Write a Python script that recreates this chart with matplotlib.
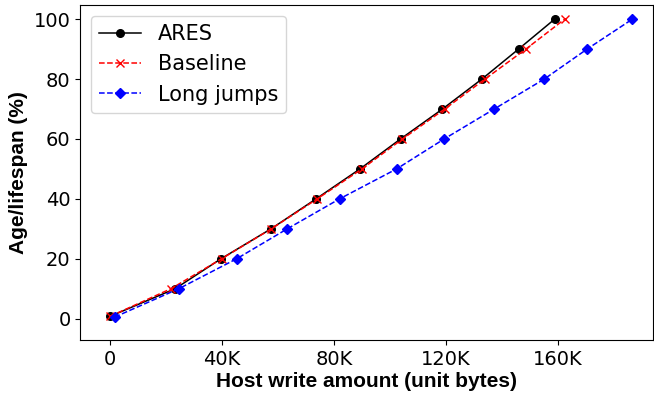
import matplotlib
matplotlib.use("Agg")
from matplotlib import pyplot as plt
from matplotlib.ticker import FuncFormatter

# 数据 (x 单位: K)
ares_x = [0, 23.2, 39.6, 57.5, 73.6, 89.3, 103.8, 118.8, 132.9, 146.0, 158.9]
ares_y = [0.8, 10, 20, 30, 40, 50, 60, 70, 80, 90, 100]
base_x = [0, 21.7, 39.8, 57.6, 74.0, 90.0, 104.5, 119.6, 134.0, 148.6, 162.5]
base_y = [0.8, 10, 20, 30, 40, 50, 60, 70, 80, 90, 100]
jump_x = [1.5, 24.5, 45.2, 63.3, 82.0, 102.4, 119.4, 137.3, 155.2, 170.5, 186.7]
jump_y = [0.5, 10, 20, 30, 40, 50, 60, 70, 80, 90, 100]
x_ticks = [0, 40, 80, 120, 160]

fig, ax = plt.subplots(figsize=(6.54, 3.95), dpi=100)
ax.plot([v * 1000 for v in ares_x], ares_y, 'k-', marker='o', ms=5.5, lw=1.1, label='ARES')
ax.plot([v * 1000 for v in base_x], base_y, 'r--', marker='x', ms=5.5, lw=1.1, label='Baseline')
ax.plot([v * 1000 for v in jump_x], jump_y, 'b--', marker='D', ms=5.5, lw=1.1, label='Long jumps')

ax.set_xticks([v * 1000 for v in x_ticks])
ax.xaxis.set_major_formatter(FuncFormatter(lambda v, p: '0' if v == 0 else '%dK' % (v / 1000)))
ax.set_yticks([0, 20, 40, 60, 80, 100])
ax.set_xlim(-10700, 194000)
ax.set_ylim(-7.3, 104.7)
ax.tick_params(labelsize=14)

ax.set_xlabel('Host write amount (unit bytes)', fontsize=15, fontweight='bold',
              family='Liberation Sans', labelpad=2)
ax.set_ylabel('Age/lifespan (%)', fontsize=15, fontweight='bold', family='Liberation Sans')
ax.legend(fontsize=15, loc='upper left')

plt.subplots_adjust(left=0.123, right=0.998, top=0.987, bottom=0.138)
plt.savefig('out.png')
